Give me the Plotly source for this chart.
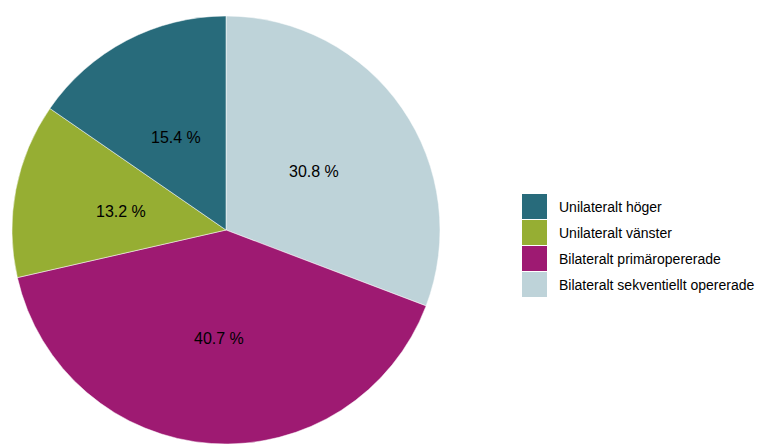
import math
import plotly.graph_objects as go

# Share of operated patients by laterality (percent)
labels = [
    "Unilateralt höger",
    "Unilateralt vänster",
    "Bilateralt primäropererade",
    "Bilateralt sekventiellt opererade",
]
values = [15.4, 13.2, 40.7, 30.8]
colors = ["#286B7B", "#96AE33", "#9E1A72", "#BED3D9"]

W, H = 757, 444
FONT = "Liberation Sans, Arial, sans-serif"

# Pie geometry in pixels
dom_x = (10, 442)
dom_top, dom_bottom = 16, 444
cx = (dom_x[0] + dom_x[1]) / 2
cy = (dom_top + dom_bottom) / 2
radius = min(dom_x[1] - dom_x[0], dom_bottom - dom_top) / 2

# Slices run clockwise from 12 o'clock in reverse legend order
pie_labels = labels[::-1]
pie_values = values[::-1]
pie_colors = colors[::-1]

fig = go.Figure(
    go.Pie(
        labels=pie_labels,
        values=pie_values,
        sort=False,
        direction="clockwise",
        rotation=0,
        marker=dict(colors=pie_colors, line=dict(color="white", width=0.5)),
        textinfo="none",
        hoverinfo="label+percent",
        showlegend=False,
        domain=dict(x=[dom_x[0] / W, dom_x[1] / W],
                    y=[1 - dom_bottom / H, 1 - dom_top / H]),
    )
)

# Percentage labels at about half radius along each slice's middle angle
total = sum(pie_values)
cum = 0.0
for v in pie_values:
    mid = (cum + v / 2) / total * 2 * math.pi
    cum += v
    px = cx + 0.5 * radius * math.sin(mid)
    py = cy - 0.5 * radius * math.cos(mid) + 2
    fig.add_annotation(
        xref="paper", yref="paper",
        x=px / W, y=1 - py / H,
        xanchor="center", yanchor="middle",
        text=f"{v:.1f} %", showarrow=False,
        font=dict(family=FONT, size=16, color="black"),
    )

# Legend: colour swatches with labels beside them
x0, y_top, sw, pitch = 522, 194, 25, 26
for i, (lab, col) in enumerate(zip(labels, colors)):
    top = y_top + i * pitch
    fig.add_shape(
        type="rect",
        xref="paper", yref="paper",
        x0=x0 / W, x1=(x0 + sw) / W,
        y0=1 - (top + sw) / H, y1=1 - top / H,
        fillcolor=col, line=dict(width=0),
    )
    fig.add_annotation(
        xref="paper", yref="paper",
        x=(x0 + sw + 10) / W, y=1 - (top + sw / 2) / H,
        xanchor="left", yanchor="middle",
        text=lab, showarrow=False,
        font=dict(family=FONT, size=14, color="black"),
    )

fig.update_layout(
    width=W, height=H,
    margin=dict(l=0, r=0, t=0, b=0),
    paper_bgcolor="white",
    plot_bgcolor="white",
)

fig.write_html("out.html")
